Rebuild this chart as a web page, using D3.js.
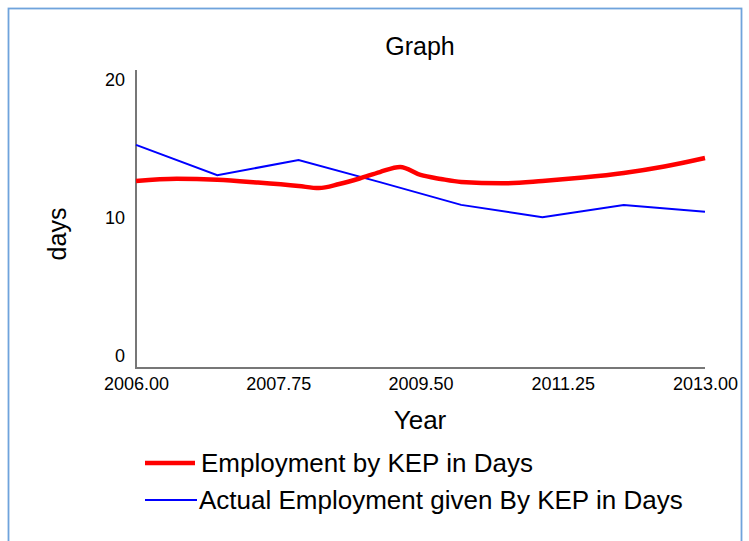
<!DOCTYPE html>
<html><head><meta charset="utf-8">
<script src="https://cdn.jsdelivr.net/npm/d3@7"></script>
<style>body{margin:0;background:#fff;} svg{display:block;font-family:"Liberation Sans",Arial,sans-serif;}</style>
</head><body>
<svg id="c" width="749" height="541"></svg>
<script>
const xTicks = [2006.00, 2007.75, 2009.50, 2011.25, 2013.00];
const yTicks = [0, 10, 20];
const blueYears = [2006, 2007, 2008, 2009, 2010, 2011, 2012, 2013];
const blueValues = [15.3, 13.1, 14.2, 12.6, 10.95, 10.05, 10.95, 10.45];
const redYears = [2006, 2006.5, 2007, 2007.5, 2008, 2008.25, 2008.5, 2008.75, 2009, 2009.25, 2009.5, 2009.75, 2010, 2010.5, 2011, 2011.5, 2012, 2012.5, 2013];
const redValues = [12.68, 12.85, 12.78, 12.57, 12.32, 12.17, 12.46, 12.86, 13.33, 13.70, 13.12, 12.83, 12.61, 12.51, 12.68, 12.93, 13.26, 13.73, 14.35];
const seriesNames = ["Employment by KEP in Days", "Actual Employment given By KEP in Days"];

const svg = d3.select("#c");
svg.append("rect").attr("x",8.5).attr("y",8.5).attr("width",733).attr("height",560)
  .attr("fill","none").attr("stroke","#6fa3dc").attr("stroke-width",1.8);

const x = d3.scaleLinear().domain([2006, 2013]).range([136, 705]);
const y = d3.scaleLinear().domain([0, 20]).range([356, 80]);

svg.append("line").attr("x1",136).attr("x2",136).attr("y1",70).attr("y2",369)
  .attr("stroke","#777").attr("stroke-width",2);
svg.append("line").attr("x1",135).attr("x2",705).attr("y1",368).attr("y2",368)
  .attr("stroke","#777").attr("stroke-width",2);

const ya = svg.append("g").attr("transform","translate(125,0)")
  .call(d3.axisLeft(y).tickValues(yTicks).tickSize(0).tickPadding(0).tickFormat(d3.format("d")));
ya.select(".domain").remove();
ya.selectAll("text").attr("font-size",18).attr("fill","#000").attr("font-family","Liberation Sans, Arial, sans-serif");

const xa = svg.append("g").attr("transform","translate(0,377)")
  .call(d3.axisBottom(x).tickValues(xTicks).tickSize(0).tickPadding(0).tickFormat(d3.format(".2f")));
xa.select(".domain").remove();
xa.selectAll("text").attr("font-size",18).attr("fill","#000").attr("font-family","Liberation Sans, Arial, sans-serif");

svg.append("text").attr("x",420).attr("y",55).attr("text-anchor","middle").attr("font-size",25).text("Graph");
svg.append("text").attr("x",420).attr("y",429).attr("text-anchor","middle").attr("font-size",26).text("Year");
svg.append("text").attr("transform","translate(66,234) rotate(-90)").attr("text-anchor","middle").attr("font-size",25).text("days");

const blue = blueYears.map((d,i)=>[d, blueValues[i]]);
const red = redYears.map((d,i)=>[d, redValues[i]]);
const line = d3.line().x(d=>x(d[0])).y(d=>y(d[1]));
svg.append("path").attr("d", line(blue)).attr("fill","none").attr("stroke","#0000ff").attr("stroke-width",2);
svg.append("path").attr("d", line.curve(d3.curveMonotoneX)(red)).attr("fill","none").attr("stroke","#ff0000").attr("stroke-width",4.5);

const leg = [{c:"#ff0000", w:4.5, t:seriesNames[0], y:463, x2:195, tx:201},{c:"#0000ff", w:2, t:seriesNames[1], y:500, x2:197, tx:199}];
leg.forEach(l=>{
  svg.append("line").attr("x1",145).attr("x2",l.x2).attr("y1",l.y).attr("y2",l.y).attr("stroke",l.c).attr("stroke-width",l.w);
  svg.append("text").attr("x",l.tx).attr("y",l.y+9).attr("font-size",26).text(l.t);
});
</script>
</body></html>
